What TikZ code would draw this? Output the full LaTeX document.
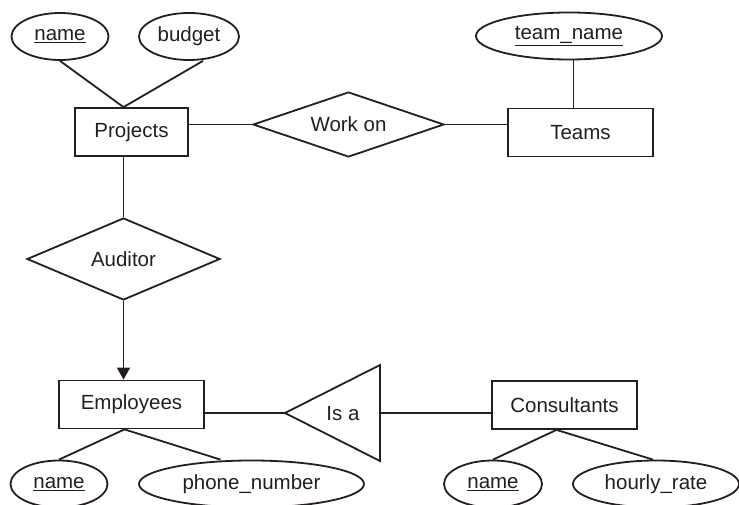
\documentclass[tikz,border=0pt]{standalone}
\usepackage{fontspec}
\setmainfont{Liberation Sans}
\usetikzlibrary{shapes.geometric,arrows.meta}
\definecolor{ink}{HTML}{231F20}
\begin{document}
\begin{tikzpicture}[x=1pt,y=-1pt,
  every node/.style={font=\fontsize{20.5}{24}\selectfont, text=ink},
  conn/.style={draw=ink, line width=1.8pt},
  ent/.style={draw=ink, line width=1.8pt, rectangle, minimum width=#1, minimum height=48pt, inner sep=0pt},
  attr/.style={draw=ink, line width=1.8pt, ellipse, minimum width=#1, minimum height=47pt, inner sep=0pt},
  rel/.style={draw=ink, line width=1.8pt, diamond, inner sep=0pt},
  lbl/.style={inner sep=0pt}]
\useasboundingbox (0,0) rectangle (739,505);

% entities
\node[ent=113pt] (proj) at (131.5,132) {Projects};
\node[ent=145pt] (teams) at (580.5,132.5) {Teams};
\node[ent=145pt] (emp) at (131.5,404.5) {Employees};
\node[ent=145pt] (cons) at (564.5,405) {Consultants};

% attributes
\node[attr=97pt] (pname) at (60,36.5) {\underline{name}};
\node[attr=100pt] (budget) at (189,36.5) {budget};
\node[attr=186pt] (tname) at (569,36) {\underline{team\_name}};
\node[attr=97pt] (ename) at (59,484) {\underline{name}};
\node[attr=225pt] (phone) at (251.5,484) {phone\_number};
\node[attr=98pt] (cname) at (493,484) {\underline{name}};
\node[attr=166pt] (hourly) at (656,484) {hourly\_rate};

% relationships
\node[rel, aspect=2.94, minimum width=191pt, minimum height=65pt] (work) at (348.5,124.5) {Work on};
\node[rel, aspect=2.35, minimum width=193pt, minimum height=82pt] (aud) at (123.5,259) {Auditor};

% Is a triangle
\coordinate (isatip) at (285,413);
\coordinate (isatop) at (380,365);
\coordinate (isabot) at (380,461);
\coordinate (isaright) at (380,413);
\draw[conn, line join=miter] (isatip) -- (isatop) -- (isabot) -- cycle;
\node[lbl] (isa) at (343,414) {Is a};

% connectors
\draw[conn] (pname.south) -- ([xshift=-8pt]proj.north);
\draw[conn] ([xshift=14pt]budget.south) -- ([xshift=-8pt]proj.north);
\draw[conn] (tname.south -| teams.north) ++(-7pt,0) -- ([xshift=-7pt]teams.north);
\draw[conn] (proj.east |- work.west) -- (work.west);
\draw[conn] (work.east) -- (teams.west |- work.east);
\draw[conn] ([xshift=-8pt]proj.south) -- (aud.north);
\draw[conn, -{Triangle[length=12pt,width=13pt]}] (aud.south) -- (emp.north -| aud.south);
\draw[conn] (emp.east |- isatip) -- (isatip);
\draw[conn] (isaright) -- (cons.west |- isaright);
\draw[conn] ([xshift=-7pt]emp.south) -- (ename.north);
\draw[conn] ([xshift=-7pt]emp.south) -- ([xshift=-31pt]phone.north);
\draw[conn] ([xshift=-8pt]cons.south) -- (cname.north);
\draw[conn] ([xshift=-8pt]cons.south) -- ([xshift=-3pt]hourly.north);
\end{tikzpicture}
\end{document}
